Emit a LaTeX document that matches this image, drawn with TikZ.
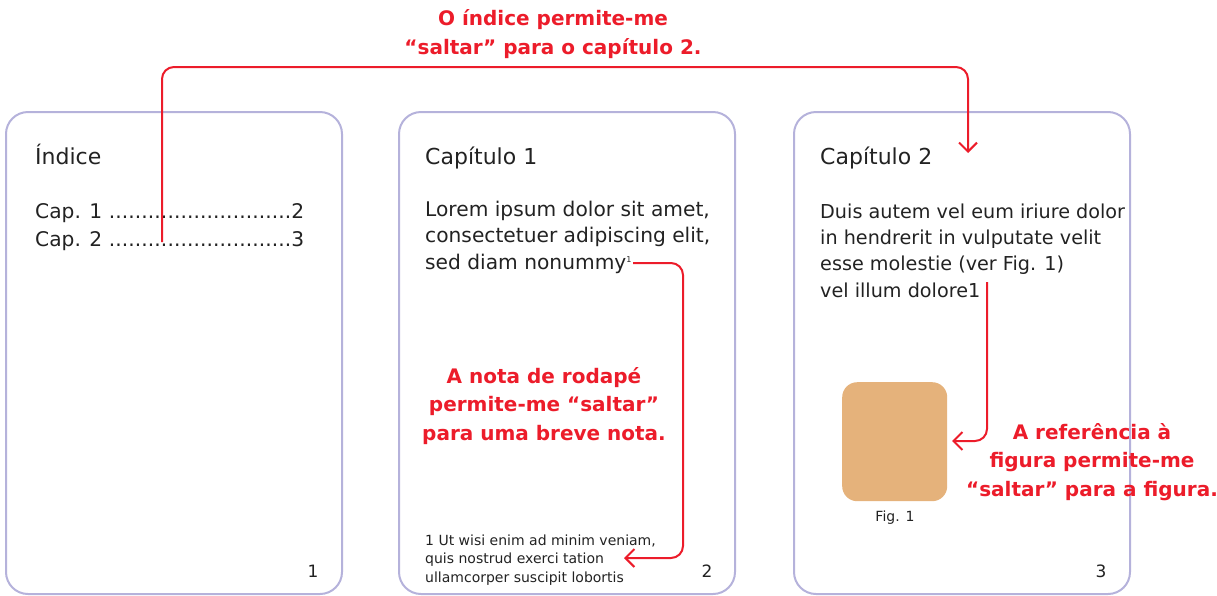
\documentclass[tikz,border=0pt]{standalone}
\usepackage{fontspec}
\setmainfont{DejaVu Sans}
\usetikzlibrary{arrows.meta}
\definecolor{pageborder}{HTML}{B5B2DB}
\definecolor{redc}{HTML}{EC1C2A}
\definecolor{txt}{HTML}{222222}
\definecolor{figc}{HTML}{E5B27B}
\newcommand{\tocline}[2]{\hbox to 269pt{#1\xleaders\hbox to 6.5pt{\hss.\hss}\hfill#2}}
\begin{document}
\begin{tikzpicture}[x=1pt,y=-1pt,
  page/.style={draw=pageborder, line width=2pt, rounded corners=22pt, anchor=north west, minimum width=336pt, minimum height=482pt, inner sep=0},
  title/.style={anchor=base west, inner sep=0, text=txt, font=\fontsize{22}{26}\selectfont},
  body/.style={anchor=base west, inner sep=0, align=left, text=txt, font=\fontsize{20.2}{26.3}\selectfont},
  foot/.style={anchor=base west, inner sep=0, align=left, text=txt, font=\fontsize{14}{18.5}\selectfont},
  pnum/.style={anchor=base, inner sep=0, text=txt, font=\fontsize{17}{19}\selectfont},
  note/.style={anchor=base, inner sep=0, align=center, text=redc, font=\bfseries\fontsize{20}{28.5}\selectfont},
  link/.style={draw=redc, line width=2pt, rounded corners=12pt, -{Straight Barb[length=9pt,width=18pt]}}
]
\useasboundingbox (0,0) rectangle (1217,595);
% pages
\node[page] (p1) at (5,111) {};
\node[page] (p2) at (398,111) {};
\node[page] (p3) at (793,111) {};
% page 1
\node[title] (t1) at (35,164) {Índice};
\node[body] (toc) at (35,246) {\tocline{Cap. 1 }{2}\\[1.7pt]\tocline{Cap. 2 }{3}};
\node[pnum] (n1) at (313,577) {1};
% page 2
\node[title] (t2) at (425,164) {Capítulo 1};
\node[body] (b2) at (425,269) {Lorem ipsum dolor sit amet,\\consectetuer adipiscing elit,\\sed diam nonummy\raisebox{6.5pt}{\fontsize{8}{8}\selectfont 1}};
\node[foot] (f2) at (425,582) {1 Ut wisi enim ad minim veniam,\\quis nostrud exerci tation\\ullamcorper suscipit lobortis};
\node[pnum] (n2) at (707,577) {2};
% page 3
\node[title] (t3) at (820,164) {Capítulo 2};
\node[body, font=\fontsize{19.2}{26.3}\selectfont] (b3) at (820,297) {Duis autem vel eum iriure dolor\\in hendrerit in vulputate velit\\esse molestie (ver Fig. 1)\\vel illum dolore1};
\node[draw=none, fill=figc, rounded corners=15pt, anchor=north west, minimum width=105pt, minimum height=119pt, inner sep=0] (fig) at (842,382) {};
\node[anchor=base, inner sep=0, text=txt, font=\fontsize{14}{16}\selectfont] (figcap) at (895,521) {Fig. 1};
\node[pnum] (n3) at (1101,577) {3};
% notes
\node[note] (m1) at (553,54) {O índice permite-me\\“saltar” para o capítulo 2.};
\node[note] (m2) at (544,440) {A nota de rodapé\\permite-me “saltar”\\para uma breve nota.};
\node[note] (m3) at (1092,496) {A referência à\\figura permite-me\\“saltar” para a figura.};
% link endpoints
\coordinate (s1) at (162,242);
\coordinate (e1) at (968,153);
\coordinate (s2) at (633,263);
\coordinate (e2) at (624,558);
\coordinate (s3) at (987,282);
\coordinate (e3) at (952,441);
\draw[link] (s1) |- (565,67) -| (e1);
\draw[link] (s2) -| (683,400) |- (e2);
\draw[link] (s3) |- (e3);
\end{tikzpicture}
\end{document}
